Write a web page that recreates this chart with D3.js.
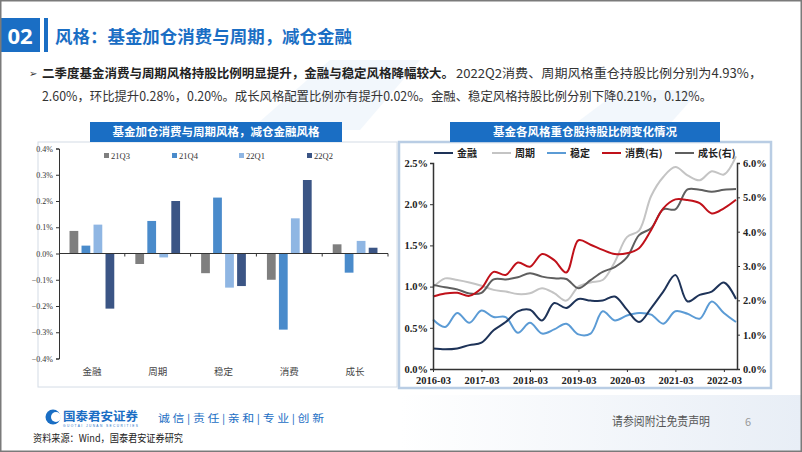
<!DOCTYPE html>
<html><head><meta charset="utf-8">
<script src="https://cdn.jsdelivr.net/npm/d3@7"></script>
<style>body{margin:0;background:#fff}svg{display:block}</style>
</head><body><svg id="c" width="802" height="452"></svg>
<script>
// ---------- data ----------
const barCategories = ["金融","周期","稳定","消费","成长"];
const barSeries = ["21Q3","21Q4","22Q1","22Q2"];
const bar21Q3 = [0.086,-0.040,-0.075,-0.100,0.035];
const bar21Q4 = [0.030,0.124,0.213,-0.290,-0.073];
const bar22Q1 = [0.110,-0.015,-0.130,0.134,0.048];
const bar22Q2 = [-0.210,0.200,-0.124,0.280,0.022];
const barTicks = [-0.4,-0.3,-0.2,-0.1,0,0.1,0.2,0.3,0.4];

const quarters = ["2016-03","2016-06","2016-09","2016-12","2017-03","2017-06","2017-09","2017-12",
 "2018-03","2018-06","2018-09","2018-12","2019-03","2019-06","2019-09","2019-12",
 "2020-03","2020-06","2020-09","2020-12","2021-03","2021-06","2021-09","2021-12","2022-03","2022-06"];
const finance  = [0.25,0.24,0.25,0.29,0.32,0.47,0.57,0.70,0.72,0.59,0.80,0.74,0.85,0.83,0.83,0.88,0.72,0.57,0.74,0.94,1.14,0.82,0.90,0.94,1.05,0.85];
const cyclical = [0.99,1.10,1.08,1.05,1.01,0.96,0.94,0.91,0.92,0.98,0.92,0.83,1.00,1.05,1.08,1.30,1.60,1.68,2.10,2.33,2.45,2.35,2.29,2.40,2.36,2.58];
const stable   = [0.60,0.51,0.68,0.56,0.71,0.63,0.63,0.44,0.56,0.43,0.48,0.55,0.42,0.43,0.70,0.59,0.65,0.68,0.66,0.55,0.70,0.67,0.61,0.82,0.68,0.57];
const consumer = [2.11,2.20,2.22,2.13,2.35,2.83,2.74,3.10,2.98,3.35,3.17,2.81,3.75,3.62,3.47,3.35,3.37,3.52,4.05,4.68,4.94,4.92,4.83,4.53,4.68,4.93];
const growth   = [2.45,2.38,2.32,2.20,2.22,2.61,2.61,2.67,2.79,2.69,2.64,2.62,2.35,2.59,2.83,2.97,3.25,3.90,4.10,4.65,4.65,5.23,5.22,5.16,5.22,5.24];
const leftTicks = [0,0.5,1.0,1.5,2.0,2.5];
const rightTicks = [0,1,2,3,4,5,6];

// ---------- page ----------
const svg = d3.select("#c");
const CJK = "'Noto Sans CJK SC','Noto Sans',sans-serif";
const SERIF = "'Liberation Serif','DejaVu Serif',serif";
const BLUE = "#1a6ec4";

const defs = svg.append("defs");
const g1 = defs.append("linearGradient").attr("id","fg").attr("x1","0").attr("x2","1");
g1.append("stop").attr("offset","0").attr("stop-color","#ffffff");
g1.append("stop").attr("offset","1").attr("stop-color","#e8eef6");
svg.append("rect").attr("x",0).attr("y",0).attr("width",802).attr("height",452).attr("fill","#fff");
svg.append("rect").attr("x",400).attr("y",395).attr("width",402).attr("height",57).attr("fill","url(#fg)");
svg.append("path").attr("d","M250,130 L330,60 L420,60 L360,130 Z").attr("fill","#dbe7f5").attr("opacity",0.35);
svg.append("path").attr("d","M560,135 L620,90 L700,90 L660,135 Z").attr("fill","#dbe7f5").attr("opacity",0.35);

// header
svg.append("rect").attr("x",0).attr("y",18).attr("width",40).attr("height",34).attr("fill",BLUE);
svg.append("text").attr("x",20).attr("y",44).attr("text-anchor","middle").attr("fill","#fff")
  .attr("font-family","'Open Sans','Noto Sans',sans-serif").attr("font-weight","bold").attr("font-size",22).text("02");
svg.append("rect").attr("x",44).attr("y",18).attr("width",4).attr("height",34).attr("fill",BLUE);
svg.append("text").attr("x",55).attr("y",43).attr("fill",BLUE).attr("font-family",CJK).attr("font-weight","bold")
  .attr("font-size",17.5).attr("textLength",297).attr("lengthAdjust","spacingAndGlyphs").text("风格：基金加仓消费与周期，减仓金融");

// body text
svg.append("text").attr("x",29).attr("y",77).attr("fill","#333").attr("font-family","'DejaVu Sans',sans-serif").attr("font-size",10).text("➢");
svg.append("text").attr("x",42).attr("y",78).attr("fill","#222").attr("font-family",CJK).attr("font-weight","bold").attr("font-size",12.5)
  .attr("textLength",412).attr("lengthAdjust","spacingAndGlyphs").text("二季度基金消费与周期风格持股比例明显提升，金融与稳定风格降幅较大。");
svg.append("text").attr("x",456).attr("y",78).attr("fill","#333").attr("font-family",CJK).attr("font-size",12.5)
  .attr("textLength",306).attr("lengthAdjust","spacingAndGlyphs").text("2022Q2消费、周期风格重仓持股比例分别为4.93%，");
svg.append("text").attr("x",42).attr("y",101).attr("fill","#333").attr("font-family",CJK).attr("font-size",12.5)
  .attr("textLength",670).attr("lengthAdjust","spacingAndGlyphs").text("2.60%，环比提升0.28%，0.20%。成长风格配置比例亦有提升0.02%。金融、稳定风格持股比例分别下降0.21%，0.12%。");

// panels
svg.append("rect").attr("x",38).attr("y",142).attr("width",359).attr("height",245).attr("fill","#fff").attr("stroke","#d4dce6").attr("stroke-width",1);
svg.append("rect").attr("x",399).attr("y",142).attr("width",372).attr("height",246).attr("fill","#fff").attr("stroke","#b9cde4").attr("stroke-width",2.5);

function titleBar(x,w,t){
  svg.append("rect").attr("x",x).attr("y",122).attr("width",w).attr("height",20).attr("fill",BLUE);
  svg.append("text").attr("x",x+w/2).attr("y",136).attr("text-anchor","middle").attr("fill","#fff")
    .attr("font-family",CJK).attr("font-weight","bold").attr("font-size",11.5).text(t);
}
titleBar(90,252,"基金加仓消费与周期风格，减仓金融风格");
titleBar(450,270,"基金各风格重仓股持股比例变化情况");

// ---------- left bar chart ----------
const barColors = {"21Q3":"#7f7f7f","21Q4":"#4a8bcb","22Q1":"#8fb6e3","22Q2":"#3b5585"};
const barData = barCategories.map((c,i)=>({cat:c, vals:[bar21Q3[i],bar21Q4[i],bar22Q1[i],bar22Q2[i]]}));
const x0 = d3.scaleBand().domain(barCategories).range([59,388]).paddingInner(0.32).paddingOuter(0.16);
const x1 = d3.scaleBand().domain(barSeries).range([0,x0.bandwidth()]).paddingInner(0.27).paddingOuter(0);
const yB = d3.scaleLinear().domain([-0.4,0.4]).range([358.5,148.5]);
const lb = svg.append("g");
barData.forEach(d=>{
  lb.selectAll(null).data(d.vals).enter().append("rect")
    .attr("x",(v,j)=>x0(d.cat)+x1(barSeries[j]))
    .attr("width",x1.bandwidth())
    .attr("y",v=>yB(Math.max(0,v)))
    .attr("height",v=>Math.abs(yB(v)-yB(0)))
    .attr("fill",(v,j)=>barColors[barSeries[j]]);
});
const yAxL = lb.append("g").attr("transform","translate(59,0)")
  .call(d3.axisLeft(yB).tickValues(barTicks).tickSize(3).tickFormat(d=>d3.format(".1f")(d)+"%"));
yAxL.select(".domain").attr("stroke","#333");
yAxL.selectAll(".tick line").attr("stroke","#333");
yAxL.selectAll("text").attr("font-family",SERIF).attr("font-size",8).attr("fill","#333");
const xa = lb.append("g").attr("transform",`translate(0,${yB(0)})`);
xa.append("line").attr("x1",59).attr("x2",388).attr("stroke","#333");
const step = x0.step();
const edge = d => x0(d) - step*0.16 + step;   // right boundary of each category
xa.selectAll(null).data(barCategories).enter().append("line")
  .attr("x1",edge).attr("x2",edge).attr("y1",0).attr("y2",3).attr("stroke","#333");
lb.selectAll(null).data(barCategories).enter().append("text")
  .attr("x",d=>x0(d)+x0.bandwidth()/2).attr("y",375).attr("text-anchor","middle")
  .attr("font-family",CJK).attr("font-size",9.5).attr("fill","#444").text(d=>d);
const legX = [104,172,239,307];
barSeries.forEach((s,i)=>{
  lb.append("rect").attr("x",legX[i]).attr("y",153).attr("width",5).attr("height",5).attr("fill",barColors[s]);
  lb.append("text").attr("x",legX[i]+7).attr("y",159).attr("font-family",SERIF).attr("font-size",8.5).attr("fill","#333").text(s);
});

// ---------- right line chart ----------
const xL = d3.scalePoint().domain(quarters).range([433,736]);
const yL = d3.scaleLinear().domain([0,2.5]).range([369,163]);
const yR = d3.scaleLinear().domain([0,6]).range([369,163]);
const rc = svg.append("g");
const series = [
  {name:"金融", vals:finance, axis:"L", color:"#1e3358"},
  {name:"周期", vals:cyclical, axis:"L", color:"#c4c4c4"},
  {name:"稳定", vals:stable, axis:"L", color:"#5b9bd5"},
  {name:"消费(右)", vals:consumer, axis:"R", color:"#c0111a"},
  {name:"成长(右)", vals:growth, axis:"R", color:"#5f5f5f"}
];
const drawOrder = [series[1],series[4],series[3],series[2],series[0]];
drawOrder.forEach(s=>{
  const ys = s.axis==="L"?yL:yR;
  const line = d3.line().x((v,i)=>xL(quarters[i])).y(v=>ys(v)).curve(d3.curveCatmullRom.alpha(0.5));
  rc.append("path").attr("d",line(s.vals)).attr("fill","none").attr("stroke",s.color).attr("stroke-width",2);
});
const axL = rc.append("g").attr("transform","translate(433,0)").call(d3.axisLeft(yL).tickValues(leftTicks).tickSize(3).tickFormat(d=>d3.format(".1f")(d)+"%"));
const axR = rc.append("g").attr("transform","translate(737,0)").call(d3.axisRight(yR).tickValues(rightTicks).tickSize(3).tickFormat(d=>d3.format(".1f")(d)+"%"));
const axB = rc.append("g").attr("transform","translate(0,369)").call(d3.axisBottom(xL).tickValues(quarters.filter(q=>q.endsWith("-03"))).tickSize(3).tickSizeOuter(0));
axB.select(".domain").attr("d","M433,0.5H737");
[axL,axR,axB].forEach(a=>{
  a.select(".domain").attr("stroke","#333").attr("stroke-width",1.5);
  a.selectAll(".tick line").attr("stroke","#333");
  a.selectAll("text").attr("font-family",SERIF).attr("font-weight","bold").attr("font-size",10.5).attr("fill","#222");
});
axL.selectAll("text").attr("x",-5);
axR.selectAll("text").attr("x",6);
axB.selectAll("text").attr("dy","0.9em");
const lx = [434,492,547,602,675];
series.forEach((s,i)=>{
  rc.append("line").attr("x1",lx[i]).attr("x2",lx[i]+19).attr("y1",153).attr("y2",153).attr("stroke",s.color).attr("stroke-width",2);
  rc.append("text").attr("x",lx[i]+23).attr("y",157).attr("font-family",CJK).attr("font-weight","bold").attr("font-size",10).attr("fill","#222").text(s.name);
});

// footer
svg.append("circle").attr("cx",53).attr("cy",417).attr("r",7.5).attr("fill",BLUE);
svg.append("circle").attr("cx",56).attr("cy",417).attr("r",5).attr("fill","#fff");
svg.append("text").attr("x",63).attr("y",421).attr("fill",BLUE).attr("font-family",CJK).attr("font-weight","bold").attr("font-size",12)
  .attr("textLength",75).attr("lengthAdjust","spacingAndGlyphs").text("国泰君安证券");
svg.append("text").attr("x",63).attr("y",427).attr("fill",BLUE).attr("font-family","'Liberation Sans',sans-serif").attr("font-size",3.2)
  .attr("textLength",75).text("GUOTAI JUNAN SECURITIES");
svg.append("text").attr("x",158).attr("y",422).attr("fill",BLUE).attr("font-family",CJK).attr("font-size",10)
  .attr("textLength",166).attr("lengthAdjust","spacingAndGlyphs").text("诚 信 | 责 任 | 亲 和 | 专 业 | 创 新");
svg.append("text").attr("x",33).attr("y",442).attr("fill","#222").attr("font-family",CJK).attr("font-size",10.5)
  .attr("textLength",150).attr("lengthAdjust","spacingAndGlyphs").text("资料来源：Wind，国泰君安证券研究");
svg.append("text").attr("x",612).attr("y",426).attr("fill","#555").attr("font-family",CJK).attr("font-size",12)
  .attr("textLength",98).attr("lengthAdjust","spacingAndGlyphs").text("请参阅附注免责声明");
svg.append("text").attr("x",748).attr("y",426).attr("text-anchor","middle").attr("fill","#999").attr("font-family",CJK).attr("font-size",11).text("6");

svg.append("rect").attr("x",0.75).attr("y",0.75).attr("width",800.5).attr("height",450.5).attr("fill","none").attr("stroke","#7a7a7a").attr("stroke-width",1.5);
</script></body></html>
